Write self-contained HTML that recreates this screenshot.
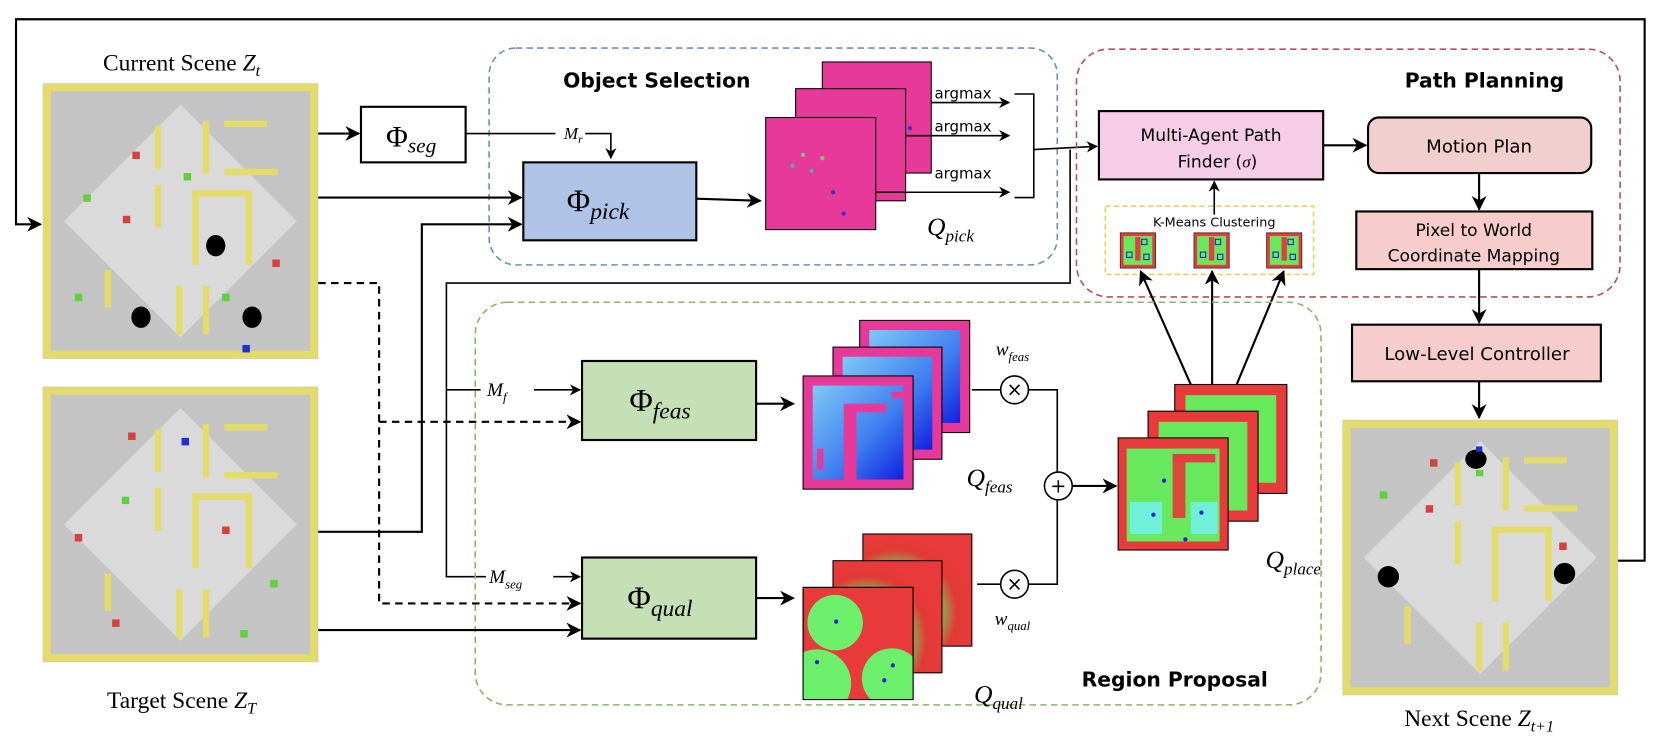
<!DOCTYPE html>
<html><head><meta charset="utf-8"><style>
html,body{margin:0;padding:0;background:#fff;width:1666px;height:738px;overflow:hidden;}
svg{display:block;}
.t{font-family:"DejaVu Sans","Liberation Sans",sans-serif;}
.m{font-family:"Liberation Serif",serif;font-style:italic;}
.r{font-family:"Liberation Serif",serif;}
</style></head><body>
<svg width="1666" height="738" viewBox="0 0 1560 691" xmlns="http://www.w3.org/2000/svg">
<defs>
<marker id="a" viewBox="0 0 10 10" refX="9" refY="5" markerWidth="7" markerHeight="7" orient="auto-start-reverse"><path d="M0,0 L10,5 L0,10 L3,5z" fill="#000"/></marker>
<radialGradient id="gq" cx="0.3" cy="0.7" r="0.7"><stop offset="0" stop-color="#6cf06c"/><stop offset="0.5" stop-color="#6ae060"/><stop offset="0.8" stop-color="#e23a36"/><stop offset="1" stop-color="#e83a3a"/></radialGradient>
<linearGradient id="gf" x1="0" y1="0" x2="1" y2="1"><stop offset="0" stop-color="#7ec8f4"/><stop offset="0.6" stop-color="#3c7cf0"/><stop offset="1" stop-color="#1020e0"/></linearGradient>
<clipPath id="cq"><rect x="752" y="550" width="103" height="105"/></clipPath>
<g id="scene">
<rect x="0" y="0" width="258" height="258" fill="#c4c4c4"/>
<path d="M129,20 L238,129 L129,238 L20,129Z" fill="#dadada"/>
<rect x="4" y="4" width="250" height="250" fill="none" stroke="#e4dc6a" stroke-width="7"/>
<rect x="105" y="40" width="6" height="40" fill="#e4dc6a"/><rect x="150" y="35" width="6" height="50" fill="#e4dc6a"/>
<rect x="105" y="95" width="6" height="40" fill="#e4dc6a"/><rect x="170" y="35" width="40" height="6" fill="#e4dc6a"/>
<rect x="170" y="80" width="50" height="6" fill="#e4dc6a"/><rect x="140" y="100" width="56" height="6" fill="#e4dc6a"/>
<rect x="140" y="100" width="6" height="70" fill="#e4dc6a"/><rect x="190" y="100" width="6" height="70" fill="#e4dc6a"/>
<rect x="58" y="175" width="6" height="35" fill="#e4dc6a"/><rect x="125" y="190" width="6" height="45" fill="#e4dc6a"/><rect x="150" y="190" width="6" height="45" fill="#e4dc6a"/>
</g>
<g id="km">
<rect x="0" y="0" width="33" height="33" fill="#e83a3a" stroke="#333" stroke-width="0.8"/><rect x="3" y="3" width="27" height="27" fill="#68e85c"/>
<rect x="14" y="4" width="5" height="22" fill="#e04040"/><rect x="6" y="18" width="5" height="5" fill="none" stroke="#22c"/><rect x="22" y="20" width="5" height="5" fill="none" stroke="#22c"/><rect x="20" y="6" width="5" height="5" fill="none" stroke="#22c"/>
</g>
</defs>

<polyline points="1515,525 1540,525 1540,18 15,18 15,210 38,210" fill="none" stroke="#000" stroke-width="2" marker-end="url(#a)"/>

<text x="170" y="66" class="r" font-size="22" text-anchor="middle">Current Scene <tspan class="m">Z</tspan><tspan class="m" font-size="15" dy="5">t</tspan></text>
<use href="#scene" x="40" y="78"/>
<rect x="124" y="142" width="7" height="7" fill="#d84040"/><rect x="172" y="162" width="7" height="7" fill="#60d040"/>
<rect x="78" y="182" width="7" height="7" fill="#60d040"/><rect x="115" y="202" width="7" height="7" fill="#d84040"/>
<rect x="255" y="243" width="7" height="7" fill="#d84040"/><rect x="70" y="275" width="7" height="7" fill="#60d040"/>
<rect x="208" y="275" width="7" height="7" fill="#60d040"/><rect x="227" y="323" width="7" height="7" fill="#2030d0"/>
<ellipse cx="202" cy="230" rx="9" ry="10" fill="#000"/><ellipse cx="132" cy="297" rx="9" ry="10" fill="#000"/><ellipse cx="236" cy="297" rx="9" ry="10" fill="#000"/>

<use href="#scene" x="40" y="362"/>
<rect x="170" y="410" width="7" height="7" fill="#2030d0"/><rect x="114" y="465" width="7" height="7" fill="#60d040"/>
<rect x="120" y="405" width="7" height="7" fill="#d84040"/><rect x="208" y="493" width="7" height="7" fill="#d84040"/>
<rect x="253" y="543" width="7" height="7" fill="#60d040"/><rect x="105" y="580" width="7" height="7" fill="#d84040"/>
<rect x="225" y="590" width="7" height="7" fill="#60d040"/><rect x="70" y="500" width="7" height="7" fill="#d84040"/>
<text x="170" y="663" class="r" font-size="22" text-anchor="middle">Target Scene <tspan class="m">Z</tspan><tspan class="m" font-size="15" dy="5">T</tspan></text>

<rect x="458" y="45" width="532" height="203" rx="25" fill="none" stroke="#6c8ec8" stroke-width="1.5" stroke-dasharray="6,4"/>
<text x="615" y="82" class="t" font-size="19" font-weight="bold" text-anchor="middle">Object Selection</text>

<line x1="298" y1="125" x2="336" y2="125" stroke="#000" stroke-width="2" marker-end="url(#a)"/>
<rect x="338" y="100" width="98" height="52" fill="#fff" stroke="#000" stroke-width="2"/>
<text x="385" y="137" class="r" font-size="28" text-anchor="middle">Φ<tspan class="m" font-size="20" dy="6">seg</tspan></text>
<line x1="436" y1="125" x2="520" y2="125" stroke="#000" stroke-width="1.5"/>
<text x="528" y="130" class="m" font-size="16">M<tspan font-size="11" dy="4">r</tspan></text>
<polyline points="548,125 572,125 572,148" fill="none" stroke="#000" stroke-width="1.5" marker-end="url(#a)"/>

<rect x="490" y="152" width="162" height="73" fill="#aec3e6" stroke="#000" stroke-width="2"/>
<text x="560" y="198" class="r" font-size="30" text-anchor="middle">Φ<tspan class="m" font-size="22" dy="7">pick</tspan></text>
<line x1="298" y1="185" x2="488" y2="185" stroke="#000" stroke-width="2" marker-end="url(#a)"/>
<polyline points="298,498 395,498 395,210 488,210" fill="none" stroke="#000" stroke-width="2" marker-end="url(#a)"/>
<line x1="652" y1="186" x2="712" y2="188" stroke="#000" stroke-width="2" marker-end="url(#a)"/>

<rect x="770" y="58" width="102" height="104" fill="#e6399a" stroke="#000"/>
<rect x="745" y="83" width="103" height="105" fill="#e6399a" stroke="#000"/>
<rect x="717" y="110" width="103" height="105" fill="#e6399a" stroke="#000"/>
<circle cx="742" cy="155" r="2" fill="#5ab"/><circle cx="752" cy="145" r="2" fill="#7c6"/><circle cx="770" cy="148" r="2" fill="#7c6"/><circle cx="780" cy="180" r="2" fill="#33c"/><circle cx="790" cy="200" r="2" fill="#33c"/><circle cx="760" cy="160" r="2" fill="#5ab"/><circle cx="852" cy="120" r="2" fill="#33c"/>
<text x="868" y="220" class="m" font-size="24">Q<tspan font-size="16" dy="6">pick</tspan></text>

<g class="t" font-size="14">
<text x="875" y="92">argmax</text><text x="875" y="123">argmax</text><text x="875" y="167">argmax</text>
</g>
<line x1="872" y1="96" x2="945" y2="96" stroke="#000" stroke-width="1.5" marker-end="url(#a)"/>
<line x1="848" y1="127" x2="945" y2="127" stroke="#000" stroke-width="1.5" marker-end="url(#a)"/>
<line x1="820" y1="180" x2="945" y2="180" stroke="#000" stroke-width="1.5" marker-end="url(#a)"/>
<polyline points="950,88 968,88 968,185 950,185" fill="none" stroke="#000" stroke-width="1.5"/>
<polyline points="968,140 1027,137" fill="none" stroke="#000" stroke-width="1.5" marker-end="url(#a)"/>
<polyline points="1002,140 1002,265 418,265 418,540 455,540" fill="none" stroke="#000" stroke-width="1.5"/>
<line x1="518" y1="540" x2="543" y2="540" stroke="#000" stroke-width="1.5" marker-end="url(#a)"/>
<line x1="418" y1="365" x2="450" y2="365" stroke="#000" stroke-width="1.5"/>
<line x1="500" y1="365" x2="543" y2="365" stroke="#000" stroke-width="1.5" marker-end="url(#a)"/>

<rect x="1008" y="46" width="509" height="232" rx="30" fill="none" stroke="#b85050" stroke-width="1.5" stroke-dasharray="6,4"/>
<text x="1390" y="82" class="t" font-size="19" font-weight="bold" text-anchor="middle">Path Planning</text>
<rect x="1029" y="104" width="210" height="64" fill="#f6cde6" stroke="#000" stroke-width="2"/>
<text x="1134" y="132" class="t" font-size="16" text-anchor="middle">Multi-Agent Path</text>
<text x="1140" y="157" class="t" font-size="16" text-anchor="middle">Finder (<tspan class="m">σ</tspan>)</text>
<line x1="1239" y1="136" x2="1279" y2="136" stroke="#000" stroke-width="2" marker-end="url(#a)"/>
<rect x="1281" y="110" width="209" height="52" rx="10" fill="#f2cfcf" stroke="#000" stroke-width="2"/>
<text x="1385" y="143" class="t" font-size="17" text-anchor="middle">Motion Plan</text>
<line x1="1385" y1="162" x2="1385" y2="196" stroke="#000" stroke-width="2" marker-end="url(#a)"/>
<rect x="1270" y="198" width="221" height="54" fill="#f6cccc" stroke="#000" stroke-width="2"/>
<text x="1380" y="221" class="t" font-size="16" text-anchor="middle">Pixel to World</text>
<text x="1380" y="245" class="t" font-size="16" text-anchor="middle">Coordinate Mapping</text>
<line x1="1385" y1="252" x2="1385" y2="302" stroke="#000" stroke-width="2" marker-end="url(#a)"/>
<rect x="1266" y="304" width="233" height="53" fill="#f6cccc" stroke="#000" stroke-width="2"/>
<text x="1383" y="337" class="t" font-size="17" text-anchor="middle">Low-Level Controller</text>
<line x1="1385" y1="357" x2="1385" y2="391" stroke="#000" stroke-width="2" marker-end="url(#a)"/>

<use href="#scene" x="1257" y="393"/>
<ellipse cx="1382" cy="430" rx="10" ry="9" fill="#000"/><ellipse cx="1300" cy="540" rx="10" ry="10" fill="#000"/><ellipse cx="1465" cy="537" rx="10" ry="10" fill="#000"/>
<rect x="1382" y="418" width="6" height="5" fill="#2030d0"/><rect x="1382" y="440" width="7" height="6" fill="#60d040"/>
<rect x="1339" y="430" width="7" height="7" fill="#d84040"/><rect x="1292" y="460" width="7" height="7" fill="#60d040"/>
<rect x="1335" y="473" width="7" height="7" fill="#d84040"/><rect x="1460" y="508" width="7" height="7" fill="#d84040"/>
<text x="1385" y="680" class="r" font-size="22" text-anchor="middle">Next Scene <tspan class="m">Z</tspan><tspan class="m" font-size="15" dy="5">t+1</tspan></text>

<rect x="1035" y="193" width="195" height="64" fill="none" stroke="#f0d050" stroke-width="1.5" stroke-dasharray="5,3"/>
<text x="1137" y="212" class="t" font-size="12" text-anchor="middle">K-Means Clustering</text>
<line x1="1137" y1="201" x2="1137" y2="170" stroke="#000" stroke-width="1.5" marker-end="url(#a)"/>
<use href="#km" x="1049" y="218"/><use href="#km" x="1118" y="218"/><use href="#km" x="1186" y="218"/>
<line x1="1115" y1="360" x2="1068" y2="254" stroke="#000" stroke-width="2" marker-end="url(#a)"/>
<line x1="1135" y1="360" x2="1135" y2="254" stroke="#000" stroke-width="2" marker-end="url(#a)"/>
<line x1="1158" y1="360" x2="1202" y2="254" stroke="#000" stroke-width="2" marker-end="url(#a)"/>

<rect x="445" y="283" width="792" height="377" rx="30" fill="none" stroke="#88b860" stroke-width="1.5" stroke-dasharray="6,4"/>
<text x="1100" y="643" class="t" font-size="19" font-weight="bold" text-anchor="middle">Region Proposal</text>

<text x="456" y="371" class="m" font-size="18">M<tspan font-size="12" dy="5">f</tspan></text>
<text x="458" y="546" class="m" font-size="18">M<tspan font-size="12" dy="5">seg</tspan></text>

<polyline points="298,265 355,265 355,565 543,565" fill="none" stroke="#000" stroke-width="2" stroke-dasharray="7,5" marker-end="url(#a)"/>
<line x1="355" y1="395" x2="543" y2="395" stroke="#000" stroke-width="2" stroke-dasharray="7,5" marker-end="url(#a)"/>
<line x1="298" y1="590" x2="543" y2="590" stroke="#000" stroke-width="2" marker-end="url(#a)"/>

<rect x="545" y="338" width="163" height="74" fill="#c5e0b4" stroke="#000" stroke-width="2"/>
<text x="618" y="385" class="r" font-size="30" text-anchor="middle">Φ<tspan class="m" font-size="22" dy="7">feas</tspan></text>
<rect x="545" y="522" width="163" height="76" fill="#c5e0b4" stroke="#000" stroke-width="2"/>
<text x="618" y="570" class="r" font-size="30" text-anchor="middle">Φ<tspan class="m" font-size="22" dy="7">qual</tspan></text>
<line x1="708" y1="378" x2="743" y2="378" stroke="#000" stroke-width="2" marker-end="url(#a)"/>
<line x1="708" y1="560" x2="743" y2="560" stroke="#000" stroke-width="2" marker-end="url(#a)"/>

<g stroke="#000">
<rect x="805" y="300" width="103" height="105" fill="#e6399a"/><rect x="814" y="309" width="85" height="87" fill="url(#gf)" stroke="none"/>
<rect x="780" y="325" width="102" height="105" fill="#e6399a"/><rect x="789" y="334" width="84" height="87" fill="url(#gf)" stroke="none"/>
<rect x="752" y="352" width="103" height="106" fill="#e6399a"/><rect x="761" y="361" width="85" height="88" fill="url(#gf)" stroke="none"/>
</g>
<rect x="790" y="385" width="12" height="65" fill="#e6399a"/><rect x="790" y="378" width="40" height="8" fill="#e6399a"/><rect x="765" y="420" width="6" height="20" fill="#e6399a"/><rect x="835" y="367" width="12" height="6" fill="#e6399a"/>
<text x="905" y="455" class="m" font-size="24">Q<tspan font-size="16" dy="6">feas</tspan></text>

<g stroke="#000">
<rect x="808" y="500" width="102" height="105" fill="url(#gq)"/>
<rect x="780" y="525" width="102" height="105" fill="url(#gq)"/>
<rect x="752" y="550" width="103" height="105" fill="#e83a3a"/>
</g>
<g clip-path="url(#cq)">
<circle cx="765" cy="640" r="32" fill="#6cf06c"/><circle cx="782" cy="583" r="26" fill="#6cf06c"/><circle cx="835" cy="635" r="28" fill="#6cf06c"/>
</g>
<rect x="752" y="550" width="103" height="105" fill="none" stroke="#000"/>
<circle cx="783" cy="582" r="2" fill="#22c"/><circle cx="765" cy="620" r="2" fill="#22c"/><circle cx="836" cy="623" r="2" fill="#22c"/><circle cx="828" cy="637" r="2" fill="#22c"/>
<text x="912" y="658" class="m" font-size="24">Q<tspan font-size="16" dy="6">qual</tspan></text>

<text x="948" y="333" class="m" font-size="18" text-anchor="middle">w<tspan font-size="12" dy="5">feas</tspan></text>
<text x="948" y="585" class="m" font-size="18" text-anchor="middle">w<tspan font-size="12" dy="5">qual</tspan></text>
<polyline points="910,365 990,365 990,547 915,547" fill="none" stroke="#000" stroke-width="1.5"/>
<circle cx="950" cy="365" r="13" fill="#fff" stroke="#000" stroke-width="1.5"/><text x="950" y="371" class="t" font-size="18" text-anchor="middle">×</text>
<circle cx="950" cy="547" r="13" fill="#fff" stroke="#000" stroke-width="1.5"/><text x="950" y="553" class="t" font-size="18" text-anchor="middle">×</text>
<circle cx="991" cy="455" r="13" fill="#fff" stroke="#000" stroke-width="1.5"/><text x="991" y="461" class="t" font-size="18" text-anchor="middle">+</text>
<line x1="1004" y1="455" x2="1045" y2="455" stroke="#000" stroke-width="2" marker-end="url(#a)"/>

<g stroke="#000">
<rect x="1100" y="360" width="105" height="102" fill="#e83a3a"/><rect x="1110" y="370" width="85" height="82" fill="#68e85c" stroke="none"/>
<rect x="1075" y="385" width="103" height="103" fill="#e83a3a"/><rect x="1085" y="395" width="83" height="83" fill="#68e85c" stroke="none"/>
<rect x="1047" y="410" width="103" height="105" fill="#e83a3a"/><rect x="1055" y="420" width="87" height="87" fill="#68e85c" stroke="none"/>
</g>
<rect x="1098" y="430" width="12" height="55" fill="#d84a3a"/><rect x="1098" y="425" width="40" height="8" fill="#e24040"/><rect x="1058" y="470" width="30" height="30" fill="#70f0d8"/><rect x="1115" y="470" width="25" height="30" fill="#70f0d8"/>
<circle cx="1080" cy="482" r="2" fill="#22c"/><circle cx="1125" cy="480" r="2" fill="#22c"/><circle cx="1110" cy="505" r="2" fill="#22c"/><circle cx="1090" cy="450" r="2" fill="#22c"/>
<text x="1185" y="532" class="m" font-size="24">Q<tspan font-size="16" dy="6">place</tspan></text>
</svg>
</body></html>
